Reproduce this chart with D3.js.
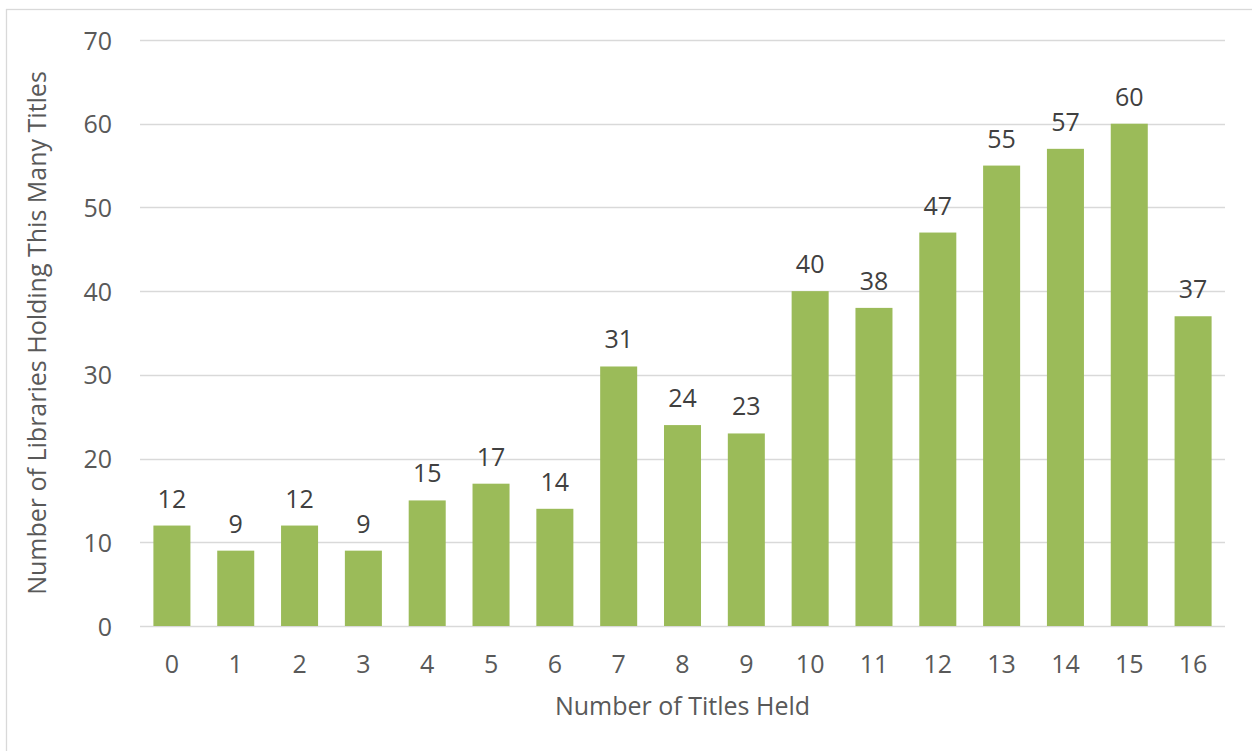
<!DOCTYPE html>
<html>
<head>
<meta charset="utf-8">
<script src="https://cdn.jsdelivr.net/npm/d3@7"></script>
<style>
  html, body { margin: 0; padding: 0; background: #fff; }
  svg { display: block; font-family: "Open Sans", "Noto Sans", sans-serif; }
</style>
</head>
<body>
<svg id="chart" width="1252" height="751"></svg>
<script>
// Number of titles held (categories) and how many libraries hold that many
const titlesHeld = ["0","1","2","3","4","5","6","7","8","9","10","11","12","13","14","15","16"];
const libraryCounts = [12, 9, 12, 9, 15, 17, 14, 31, 24, 23, 40, 38, 47, 55, 57, 60, 37];
const yTicks = [0, 10, 20, 30, 40, 50, 60, 70];
const xTitle = "Number of Titles Held";
const yTitle = "Number of Libraries Holding This Many Titles";

const svg = d3.select("#chart");
const W = 1252, H = 751;
const plot = { left: 140, right: 1225, top: 40, bottom: 626 };
const fontSize = 25;

// outer frame of the chart area
svg.append("rect")
  .attr("x", 6.5).attr("y", 9.5)
  .attr("width", W + 10).attr("height", H + 10)
  .attr("fill", "#fff")
  .attr("stroke", "#d9d9d9").attr("stroke-width", 1.3);

const x = d3.scaleBand()
  .domain(titlesHeld)
  .range([plot.left, plot.right])
  .paddingInner(0.42)
  .paddingOuter(0.21);

const y = d3.scaleLinear()
  .domain([0, 70])
  .range([plot.bottom, plot.top]);

// horizontal gridlines
svg.append("g")
  .selectAll("line")
  .data(yTicks)
  .join("line")
  .attr("x1", plot.left).attr("x2", plot.right)
  .attr("y1", d => Math.round(y(d)) + 0.5)
  .attr("y2", d => Math.round(y(d)) + 0.5)
  .attr("stroke", "#d9d9d9")
  .attr("stroke-width", d => d === 0 ? 1.6 : 1.3);

// y tick labels
const yAxis = svg.append("g")
  .attr("transform", `translate(${plot.left - 28},0)`)
  .call(d3.axisLeft(y).tickValues(yTicks).tickSize(0).tickPadding(0));
yAxis.select(".domain").remove();
yAxis.selectAll("text")
  .attr("font-size", fontSize)
  .attr("font-family", "\"Open Sans\", sans-serif")
  .attr("fill", "#595959")
  .attr("dy", "0.36em");

// bars
svg.append("g")
  .selectAll("rect")
  .data(libraryCounts)
  .join("rect")
  .attr("x", (d, i) => x(titlesHeld[i]))
  .attr("y", d => y(d))
  .attr("width", x.bandwidth())
  .attr("height", d => y(0) - y(d))
  .attr("fill", "#9bbb59");

// value labels above bars
svg.append("g")
  .selectAll("text")
  .data(libraryCounts)
  .join("text")
  .attr("x", (d, i) => x(titlesHeld[i]) + x.bandwidth() / 2)
  .attr("y", d => y(d) - 18)
  .attr("text-anchor", "middle")
  .attr("font-size", fontSize)
  .attr("fill", "#404040")
  .text(d => d);

// x tick labels
const xAxis = svg.append("g")
  .attr("transform", `translate(0,${plot.bottom})`)
  .call(d3.axisBottom(x).tickSize(0).tickPadding(0));
xAxis.select(".domain").remove();
xAxis.selectAll("text")
  .attr("font-size", fontSize)
  .attr("font-family", "\"Open Sans\", sans-serif")
  .attr("fill", "#595959")
  .attr("dy", null)
  .attr("y", 47);

// axis titles
svg.append("text")
  .attr("x", (plot.left + plot.right) / 2)
  .attr("y", 715)
  .attr("text-anchor", "middle")
  .attr("font-size", fontSize)
  .attr("fill", "#595959")
  .text(xTitle);

svg.append("text")
  .attr("transform", `translate(46,${(plot.top + plot.bottom) / 2}) rotate(-90)`)
  .attr("text-anchor", "middle")
  .attr("font-size", fontSize)
  .attr("fill", "#595959")
  .text(yTitle);
</script>
</body>
</html>
